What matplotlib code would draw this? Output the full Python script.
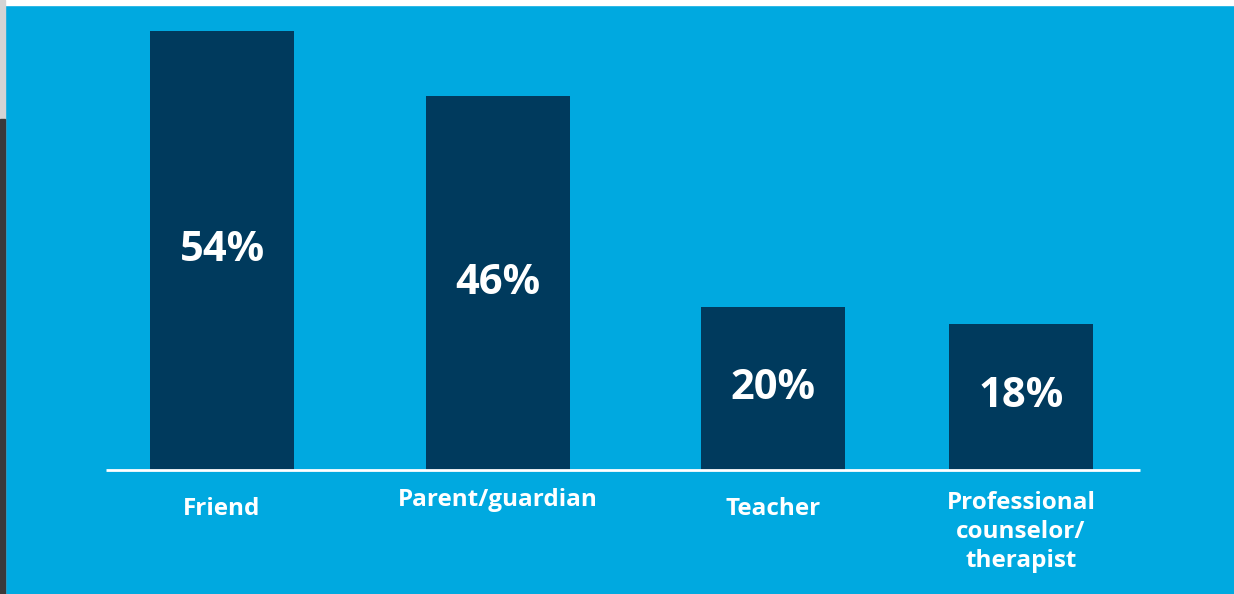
import matplotlib.pyplot as plt
from matplotlib.patches import Rectangle
from matplotlib.transforms import offset_copy

categories = ["Friend", "Parent/guardian", "Teacher", "Professional\ncounselor/\ntherapist"]
shares = [54, 46, 20, 18]

# layout
xpos = [0, 1, 1.996, 2.895]
label_drop = [39, 30, 39, 62]   # px below the baseline for each category label
W, H = 1234, 594
unit = 276.0                    # px per x unit
ppv = 439 / 54.0                # px per percentage point
base_px = 124                   # baseline height from bottom

blue = "#00A9E0"
navy = "#003A5D"

plt.rcParams['font.family'] = ['Open Sans', 'DejaVu Sans']

fig = plt.figure(figsize=(W / 100, H / 100), dpi=100, facecolor=blue)
ax = fig.add_axes([0, 0, 1, 1])
ax.set_facecolor(blue)
ax.set_xlim(-222 / unit, (W - 222) / unit)
ax.set_ylim(-base_px / ppv, (H - base_px) / ppv)
ax.axis("off")

ax.bar(xpos, shares, width=144 / unit, color=navy, zorder=2)
ax.hlines(0, (106 - 222) / unit, (1140 - 222) / unit, color="white", lw=2.0, zorder=3)

for x, v in zip(xpos, shares):
    ax.text(x, v / 2, f"{v}%", color="white", fontsize=30, fontweight="bold",
            ha="center", va="center", zorder=4)

for x, lab, d in zip(xpos, categories, label_drop):
    tr = offset_copy(ax.transData, fig=fig, x=0, y=-d, units="dots")
    ax.text(x, 0, lab, transform=tr, color="white", fontsize=17.5, fontweight="bold",
            ha="center", va="center", linespacing=1.3)

# white strip along the top, photo edge on the left
fig.patches.append(Rectangle((0, 1 - 5 / H), 1, 5 / H, transform=fig.transFigure,
                             color="white", zorder=10))
fig.patches.append(Rectangle((0, 0), 5 / W, 1, transform=fig.transFigure,
                             color="#d4d4d4", zorder=10))
fig.patches.append(Rectangle((0, 0), 5 / W, 0.8, transform=fig.transFigure,
                             color="#3a3a3a", zorder=11))

fig.savefig("out.png", dpi=100, facecolor=fig.get_facecolor())
